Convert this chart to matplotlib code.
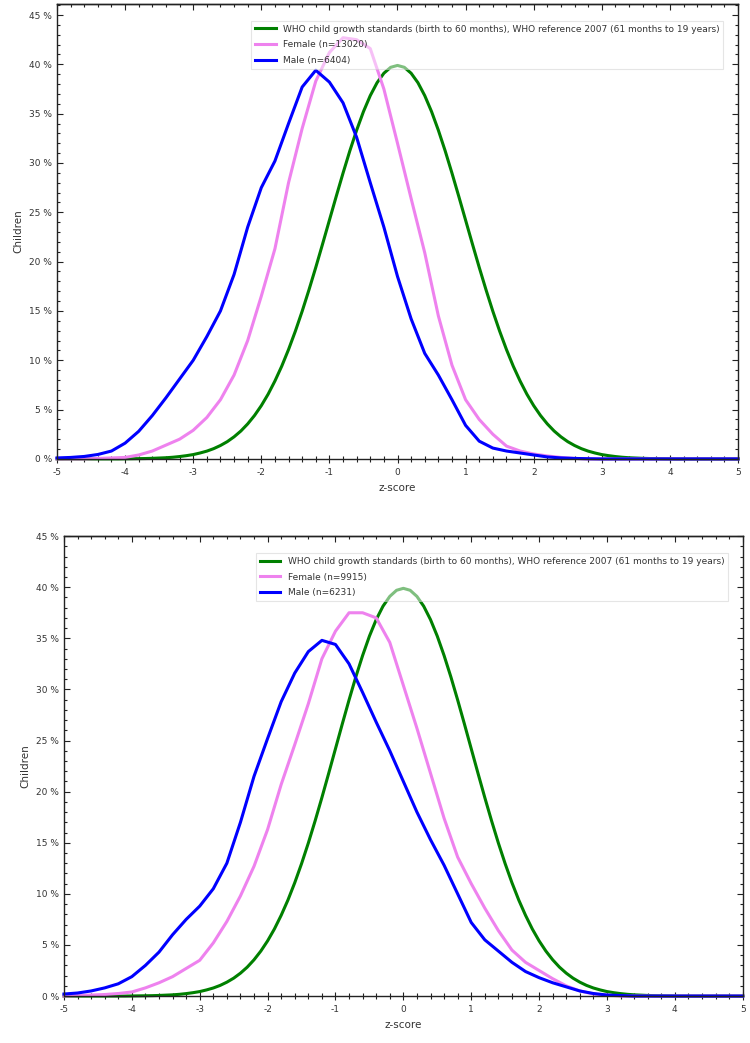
import numpy as np
import matplotlib
matplotlib.use("Agg")
import matplotlib.pyplot as plt
from matplotlib.ticker import MultipleLocator, FuncFormatter, NullFormatter

# z-score grid for the survey curves (-5 .. 5 step 0.2)
z = np.round(np.arange(-5, 5.0001, 0.2), 1)
# finer grid for the WHO reference curve (step 0.1)
z_who = np.round(np.arange(-5, 5.0001, 0.1), 1)

# WHO reference curve (% of children), symmetric around 0
who_right = [39.89, 39.70, 39.10, 38.14, 36.83, 35.21, 33.32, 31.23, 28.97, 26.61,
             24.20, 21.79, 19.42, 17.14, 14.97, 12.95, 11.09, 9.40, 7.90, 6.56,
             5.40, 4.40, 3.55, 2.83, 2.24, 1.75, 1.36, 1.04, 0.79, 0.60,
             0.44, 0.33, 0.24, 0.17, 0.12, 0.09, 0.06, 0.04, 0.03, 0.02,
             0.01, 0.0, 0.0, 0.0, 0.0, 0.0, 0.0, 0.0, 0.0, 0.0, 0.0]
who = who_right[:0:-1] + who_right

# top chart
female_top = [0.0, 0.0, 0.0, 0.05, 0.1, 0.15, 0.4, 0.8, 1.4, 2.0,
              2.9, 4.2, 6.0, 8.5, 12.0, 16.5, 21.3, 28.0, 33.5, 38.3,
              41.2, 42.7, 42.5, 41.6, 37.5, 32.0, 26.4, 20.9, 14.5, 9.5,
              6.0, 4.0, 2.5, 1.3, 0.8, 0.5, 0.3, 0.15, 0.05, 0.0,
              0.0, 0.0, 0.0, 0.0, 0.0, 0.0, 0.0, 0.0, 0.0, 0.0, 0.0]
male_top = [0.1, 0.15, 0.25, 0.45, 0.8, 1.6, 2.8, 4.4, 6.2, 8.1,
            10.0, 12.4, 15.0, 18.7, 23.5, 27.5, 30.2, 34.0, 37.7, 39.4,
            38.2, 36.1, 32.6, 28.0, 23.5, 18.5, 14.2, 10.7, 8.5, 6.0,
            3.4, 1.8, 1.1, 0.8, 0.6, 0.4, 0.2, 0.1, 0.05, 0.02,
            0.0, 0.0, 0.0, 0.0, 0.0, 0.0, 0.0, 0.0, 0.0, 0.0, 0.0]

# bottom chart
female_bot = [0.0, 0.05, 0.1, 0.15, 0.25, 0.4, 0.8, 1.3, 1.9, 2.7,
              3.5, 5.2, 7.3, 9.8, 12.7, 16.3, 20.7, 24.6, 28.6, 33.0,
              35.7, 37.5, 37.5, 37.0, 34.6, 30.4, 26.2, 21.8, 17.4, 13.6,
              11.0, 8.6, 6.4, 4.5, 3.3, 2.5, 1.7, 1.0, 0.5, 0.2,
              0.1, 0.0, 0.0, 0.0, 0.0, 0.0, 0.0, 0.0, 0.0, 0.0, 0.0]
male_bot = [0.2, 0.3, 0.5, 0.8, 1.2, 1.9, 3.0, 4.3, 6.0, 7.5,
            8.8, 10.5, 13.0, 17.0, 21.5, 25.2, 28.8, 31.6, 33.7, 34.8,
            34.4, 32.5, 29.7, 26.8, 24.0, 21.0, 18.0, 15.3, 12.8, 10.0,
            7.2, 5.5, 4.4, 3.3, 2.4, 1.8, 1.3, 0.9, 0.5, 0.25,
            0.1, 0.05, 0.0, 0.0, 0.0, 0.0, 0.0, 0.0, 0.0, 0.0, 0.0]

who_label = "WHO child growth standards (birth to 60 months), WHO reference 2007 (61 months to 19 years)"
n_female = [13020, 9915]
n_male = [6404, 6231]

fig = plt.figure(figsize=(7.5, 10.43), dpi=100)
ax_top = fig.add_axes([0.076, 0.560, 0.908, 0.436])
ax_bot = fig.add_axes([0.0853, 0.045, 0.905, 0.441])


def draw_panel(ax, female, male, nf, nm, ytop):
    ax.plot(z_who, who, color="#008000", lw=2.2, label=who_label, clip_on=False)
    ax.plot(z, female, color="violet", lw=2.2, label="Female (n=%d)" % nf, clip_on=False)
    ax.plot(z, male, color="#0000ff", lw=2.2, label="Male (n=%d)" % nm, clip_on=False)

    ax.set_xlim(-5, 5)
    ax.set_ylim(0, ytop)
    ax.xaxis.set_major_locator(MultipleLocator(1))
    ax.xaxis.set_minor_locator(MultipleLocator(0.2))
    ax.yaxis.set_major_locator(MultipleLocator(5))
    ax.yaxis.set_minor_locator(MultipleLocator(1))
    ax.yaxis.set_major_formatter(FuncFormatter(lambda v, p: "%d %%" % v))
    ax.xaxis.set_major_formatter(FuncFormatter(lambda v, p: "%d" % v))

    ax.tick_params(which="both", labelsize=6.5, labelcolor="#333333",
                   width=0.8, color="#222222")
    ax.tick_params(axis="y", which="both", direction="in", left=True, right=True)
    ax.tick_params(axis="x", which="both", direction="inout", top=False)
    ax.tick_params(which="major", length=4)
    ax.tick_params(which="minor", length=2.5)
    ax.tick_params(axis="x", which="major", length=6)
    ax.tick_params(axis="x", which="minor", length=4)

    # ticks on the top spine point down into the plot
    top = ax.secondary_xaxis("top")
    top.xaxis.set_major_locator(MultipleLocator(1))
    top.xaxis.set_minor_locator(MultipleLocator(0.2))
    top.xaxis.set_major_formatter(NullFormatter())
    top.tick_params(which="both", direction="in", width=0.8, color="#222222")
    top.tick_params(which="major", length=4)
    top.tick_params(which="minor", length=2.5)
    top.spines["top"].set_linewidth(1.0)
    top.spines["top"].set_color("#222222")

    for s in ax.spines.values():
        s.set_linewidth(1.0)
        s.set_color("#222222")

    ax.set_xlabel("z-score", fontsize=7.5, color="#333333")
    ax.set_ylabel("Children", fontsize=7.5, color="#333333")

    leg = ax.legend(loc="upper right", bbox_to_anchor=(0.978, 0.963),
                    borderaxespad=0, fontsize=6.5, fancybox=False,
                    framealpha=0.5, edgecolor="#cccccc",
                    handlelength=2.3, labelspacing=0.75)
    leg.get_frame().set_linewidth(0.8)
    leg.set_zorder(5)
    for t in leg.get_texts():
        t.set_color("#333333")


draw_panel(ax_top, female_top, male_top, n_female[0], n_male[0], 46.1)
draw_panel(ax_bot, female_bot, male_bot, n_female[1], n_male[1], 45)

fig.savefig("out.png", dpi=100)
